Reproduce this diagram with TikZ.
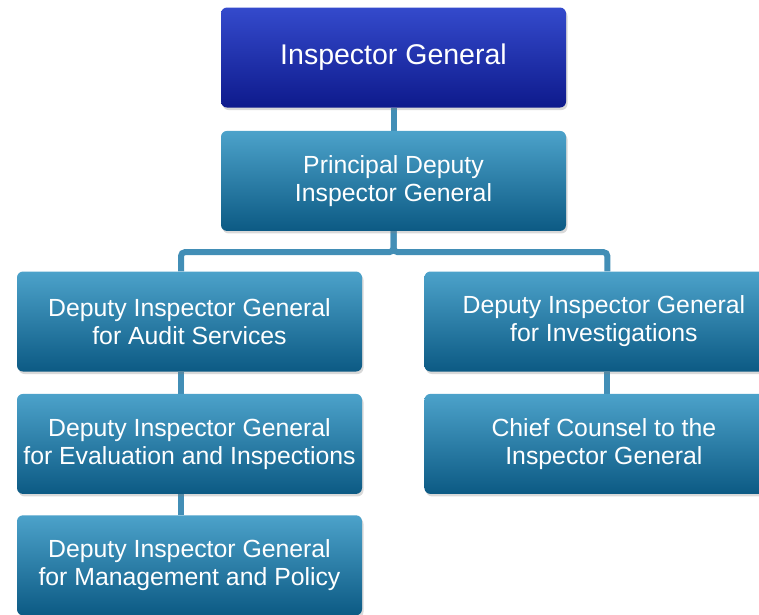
\documentclass[tikz,border=0pt]{standalone}
\usepackage{fontspec}
\setmainfont{Liberation Sans}
\usepackage{tikz}
\usetikzlibrary{positioning,shadows,backgrounds}

\definecolor{chiefTop}{RGB}{52,74,204}
\definecolor{chiefBot}{RGB}{14,26,140}
\definecolor{deptTop}{RGB}{76,162,202}
\definecolor{deptBot}{RGB}{12,90,132}
\definecolor{linkCol}{RGB}{66,142,182}

\begin{document}
\begin{tikzpicture}[
x=1pt, y=-1pt,
box/.style={rounded corners=6pt, align=center, text=white, minimum width=345pt, minimum height=100pt,
  inner xsep=2pt, top color=deptTop, bottom color=deptBot, font=\fontsize{24.8}{28}\selectfont,
  drop shadow={shadow xshift=1.5pt, shadow yshift=-2.5pt, opacity=0.3}},
chief/.style={box, top color=chiefTop, bottom color=chiefBot, font=\fontsize{28.5}{32}\selectfont},
wide/.style={box, minimum width=359pt},
link/.style={line width=6pt, draw=linkCol, rounded corners=4pt}
]
\useasboundingbox (0,0) rectangle (759,614);

\node[chief] (ig) at (393.5,57.5) {Inspector General};
\node[box, below=23pt of ig] (pdig) {Principal Deputy\\Inspector General};
\node[box] (audit) at (189.5,321.5) {Deputy Inspector General\\for Audit Services};
\node[wide, right=62pt of audit] (invest) {Deputy Inspector General\\for Investigations};
\node[box, below=22pt of audit] (eval) {Deputy Inspector General\\for Evaluation and Inspections};
\node[box, below=21pt of eval] (mgmt) {Deputy Inspector General\\for Management and Policy};
\node[wide, below=22pt of invest] (counsel) {Chief Counsel to the\\Inspector General};

% connectors go behind the boxes
\begin{scope}[on background layer]
\draw[link] (ig) -- (pdig);
\draw[link] (pdig.south) -- ++(0,21) -| ([xshift=-8.5pt]audit.north);
\draw[link] (pdig.south) -- ++(0,21) -| ([xshift=3.5pt]invest.north);
\draw[link] ([xshift=-8.5pt]audit.south) -- ([xshift=-8.5pt]eval.north);
\draw[link] ([xshift=-8.5pt]eval.south) -- ([xshift=-8.5pt]mgmt.north);
\draw[link] ([xshift=3.5pt]invest.south) -- ([xshift=3.5pt]counsel.north);
\end{scope}
\end{tikzpicture}
\end{document}
